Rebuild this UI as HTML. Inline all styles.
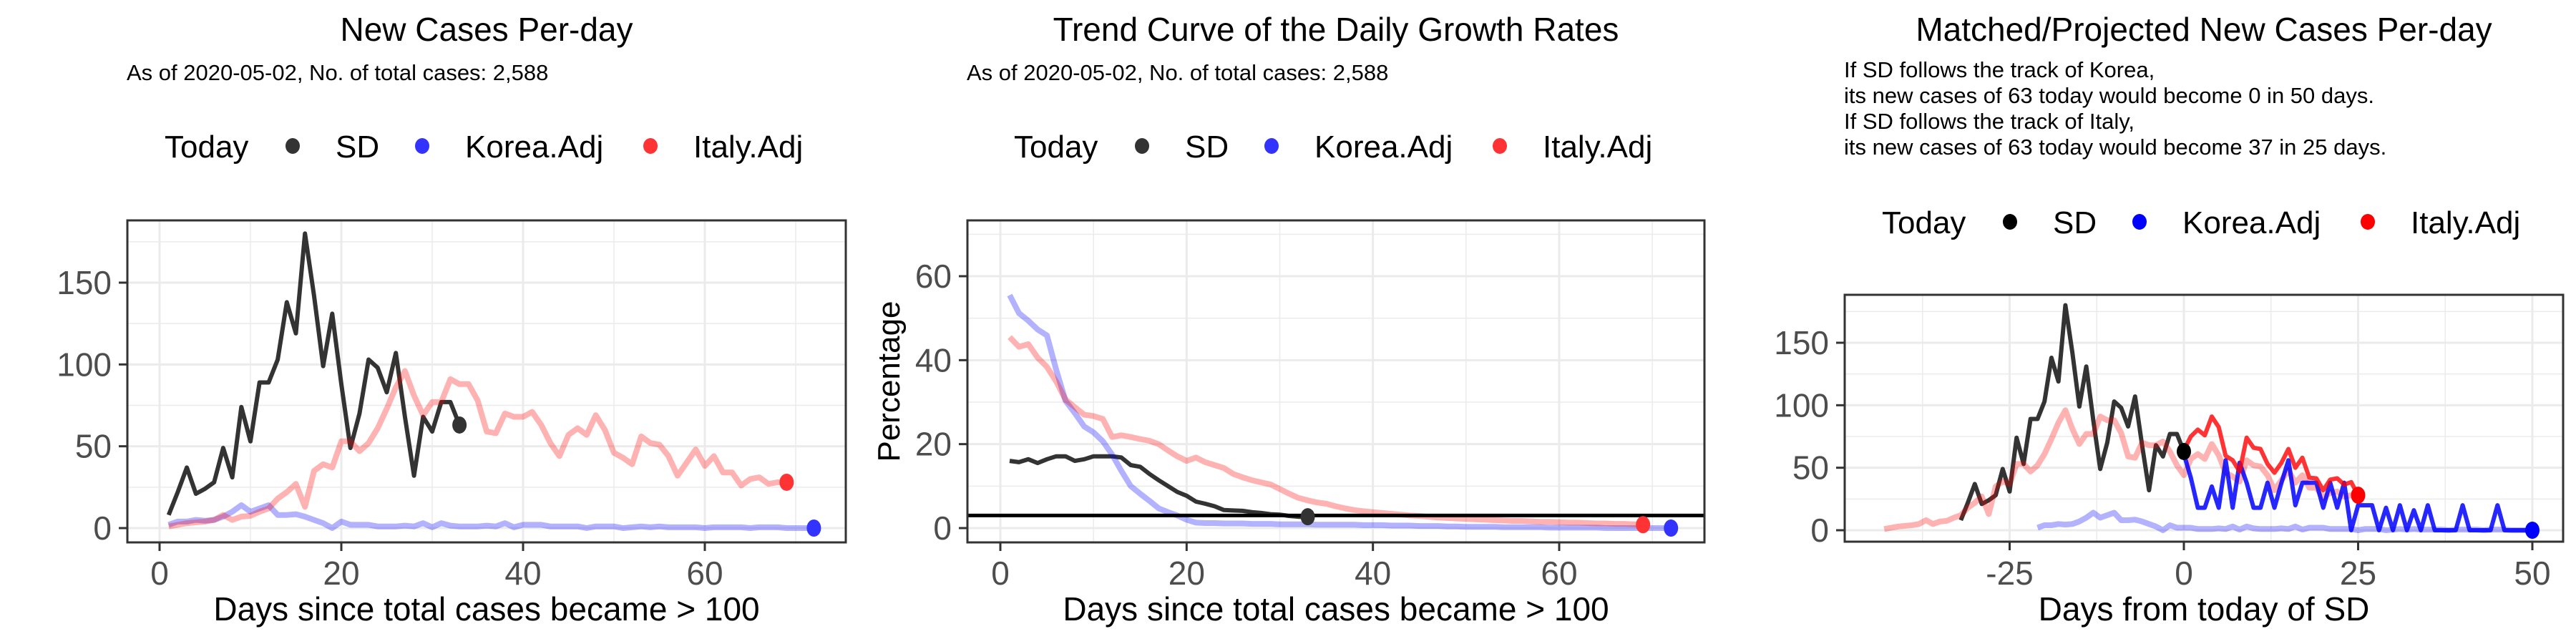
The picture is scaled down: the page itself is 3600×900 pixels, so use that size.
<!DOCTYPE html>
<html><head><meta charset="utf-8"><style>
html,body{margin:0;padding:0;background:#fff;}
svg{display:block;font-family:"Liberation Sans",Arial,sans-serif;}
</style></head><body>
<svg id="chart" width="3600" height="900" viewBox="0 0 3600 900" xmlns="http://www.w3.org/2000/svg">
<rect x="0" y="0" width="3600" height="900" fill="#fff"/>
<g id="p1"></g>
<g id="p2"></g>
<g id="p3"></g>
</svg>
<script>
// ---- data ----
const sdCases = [8,22,37,21,24,28,49,31,74,53,89,89,103,138,119,180,142,99,131,88,49,70,103,98,83,107,68,32,68,59,77,77,63];
const italyCases = [1,2,3,3.5,4,5,8,5,7,7.5,10,12,18,22,27,13,35,39,37,53,53,47,52,61,73,86,96,81,69,77,77,91,88,88,78,59,58,70,68,68,71,63,52,44,57,61,57,69,60,46,43,39,56,52,51,44,32,40,48,38,44,34,34,26,30,31,27,28,28];
const koreaCases = [2,4,4,5,4.5,5,7,10,14,10,12,14,8,8,8.5,7,5,3,0,4,2,2,2,1,1,1,1.5,1,3,0.5,3,1.5,1,1,1,1.5,1,3,0.5,2,2,2,1,1,1,1,0,1,1,1,0,0.5,1,0.5,1,0.5,0.5,0.5,0.5,0,0.5,0.5,0.5,0.5,0,0.5,0.5,0.5,0,0,0,0];
const sdRate = [16,15.7,16.4,15.5,16.4,17.1,17.1,16,16.4,17.1,17.1,17.1,16.8,15,14.6,12.9,11.4,10,8.6,7.7,6.3,5.8,5.2,4.3,4.2,4.1,3.8,3.6,3.3,3.2,2.9,2.7,2.7];
const koreaRate = [55.5,51.2,49.4,47.3,45.9,37.7,30.3,27.4,24.2,22.8,20.7,17.5,13.6,10,8.2,6.5,4.7,3.8,3,2,1.3,1.2,1.2,1.1,1.1,1.1,1,1,1,0.9,0.9,0.9,0.9,0.8,0.8,0.8,0.8,0.8,0.7,0.7,0.7,0.6,0.6,0.6,0.5,0.5,0.5,0.4,0.4,0.3,0.3,0.3,0.3,0.2,0.2,0.2,0.2,0.2,0.1,0.1,0.1,0.1,0.1,0.1,0,0,0,0,0,0,0,0];
const italyRate = [45.5,43.2,43.8,40.6,38.4,34.9,30.6,28.8,27,26.7,26,21.7,22.1,21.7,21.2,20.8,20,18.5,17.1,16,16.8,15.7,15,14.3,12.9,12.1,11.4,10.9,10.4,9.3,8.2,7.2,6.6,6.1,5.8,5.2,4.7,4.3,4,3.8,3.6,3.4,3.2,3,2.9,2.7,2.5,2.4,2.3,2.2,2.1,2,1.9,1.8,1.7,1.7,1.6,1.5,1.5,1.4,1.3,1.3,1.2,1.1,1.1,1,1,0.9,0.8];
const rateThreshold = 3;
const italyProj = [64,75,80.5,76,91,82.5,59.5,56,47,74,66,65,53,46,54,65,50,58,42,41.5,32,40.5,41.5,36.5,38.5,28];
const koreaProj = [61,42,18,18,35,18,56,18,54,38,18,18,38,18,38,56,20,38,38,38,18,38,18,38,0,20,20,20,0,18,0,20,0,16,0,20,0,0,0,0,20,0,0,0,0,20,0,0,0,0,0];
const sdShift = -33, italyShift = -44, koreaShift = -22;
const casesYTicks = [0,50,100,150];
const casesYMinor = [25,75,125,175];
const daysXTicks = [0,20,40,60];
const daysXMinor = [10,30,50,70];
const rateYTicks = [0,20,40,60];
const rateYMinor = [10,30,50,70];
const relXTicks = [-25,0,25,50];
const relXMinor = [-37.5,-12.5,12.5,37.5];

const NS = "http://www.w3.org/2000/svg";
function mk(parent, tag, attrs, text){
  const e = document.createElementNS(NS, tag);
  for (const k in attrs) e.setAttribute(k, attrs[k]);
  if (text !== undefined) e.textContent = text;
  parent.appendChild(e);
  return e;
}
function makeScale(d0, d1, r0, r1){ return v => r0 + (v - d0) / (d1 - d0) * (r1 - r0); }

function panel(g, cfg){
  const {L,R,T,B} = cfg;
  const x = makeScale(cfg.xd[0], cfg.xd[1], L, R);
  const y = makeScale(cfg.yd[0], cfg.yd[1], B, T);
  const bg = mk(g,'rect',{x:L,y:T,width:R-L,height:B-T,fill:'#fff'});
  
  
  cfg.yMinor.forEach(v=>{ const l=mk(g,'line',{x1:L,x2:R,y1:y(v),y2:y(v),stroke:'#ebebeb','stroke-width':1.5});
      });
  cfg.xMinor.forEach(v=>{ const l=mk(g,'line',{x1:x(v),x2:x(v),y1:T,y2:B,stroke:'#ebebeb','stroke-width':1.5});
      });
  cfg.yTicks.forEach(v=>{ const l=mk(g,'line',{x1:L,x2:R,y1:y(v),y2:y(v),stroke:'#ebebeb','stroke-width':3});
     
    const t=mk(g,'line',{x1:L-12,x2:L,y1:y(v),y2:y(v),stroke:'#333','stroke-width':3});
     
    const lb=mk(g,'text',{x:L-22,y:y(v)+16,'text-anchor':'end','font-size':46,fill:'#4d4d4d'},String(v));
      });
  cfg.xTicks.forEach(v=>{ const l=mk(g,'line',{x1:x(v),x2:x(v),y1:T,y2:B,stroke:'#ebebeb','stroke-width':3});
     
    const t=mk(g,'line',{x1:x(v),x2:x(v),y1:B,y2:B+12,stroke:'#333','stroke-width':3});
     
    const lb=mk(g,'text',{x:x(v),y:817,'text-anchor':'middle','font-size':46,fill:'#4d4d4d'},String(v));
      });
  const clip = 'clip'+g.id;
  const cp = mk(g,'clipPath',{id:clip}); mk(cp,'rect',{x:L,y:T,width:R-L,height:B-T});
  const plot = mk(g,'g',{'clip-path':'url(#'+clip+')'});
  
  
  cfg.series.forEach(s=>{
    const pts = s.data.map((v,i)=> x(i+1+s.shift).toFixed(1)+','+y(v).toFixed(1)).join(' ');
    const pl = mk(plot,'polyline',{points:pts,fill:'none',stroke:s.color,'stroke-width':s.w,'stroke-linejoin':'round','stroke-linecap':'butt'});
    
    
  });
  if (cfg.hline !== undefined){
    const h = mk(plot,'line',{x1:L,x2:R,y1:y(cfg.hline),y2:y(cfg.hline),stroke:'#000','stroke-width':5});
    
    
  }
  cfg.dots.forEach(d=>{
    const c = mk(plot,'ellipse',{cx:x(d.x),cy:y(d.y),rx:10,ry:12,fill:d.color});
    
    
  });
  const border = mk(g,'rect',{x:L,y:T,width:R-L,height:B-T,fill:'none',stroke:'#333','stroke-width':3});
  
  
  const cx=(L+R)/2;
  const xt = mk(g,'text',{x:cx,y:867,'text-anchor':'middle','font-size':46,fill:'#000'},cfg.xTitle);
  
  
  if (cfg.yTitle){
    const yt = mk(g,'text',{x:0,y:0,'text-anchor':'middle','font-size':44,fill:'#000',transform:'translate(1257,'+((T+B)/2)+') rotate(-90)'},cfg.yTitle);
    
    
  }
  const ti = mk(g,'text',{x:cx,y:57,'text-anchor':'middle','font-size':46,fill:'#000'},cfg.title);
  
  
  cfg.sub.forEach((s,i)=>{
    const st = mk(g,'text',{x:cfg.subX,y:cfg.subY+i*36,'font-size':31,fill:'#000'},s);
    
    
  });
  const lx = cx - 450, ly = cfg.legY;
  const lg = mk(g,'g',{});
  
  
  const lt = mk(lg,'text',{x:lx,y:ly,'font-size':44,fill:'#000'},'Today');
  
  
  const items=[['SD',179,239,cfg.legC[0],'legend-entry-sd'],['Korea.Adj',360,420,cfg.legC[1],'legend-entry-korea'],['Italy.Adj',679,739,cfg.legC[2],'legend-entry-italy']];
  items.forEach(it=>{
    const e = mk(lg,'g',{});
    
    
    mk(e,'ellipse',{cx:lx+it[1],cy:ly-16,rx:10,ry:11,fill:it[3]});
    mk(e,'text',{x:lx+it[2],y:ly,'font-size':44,fill:'#000'},it[0]);
  });
}

const subText = 'As of 2020-05-02, No. of total cases: 2,588';
const p1xd=[(178-223)/12.7,(1182-223)/12.7], p1yd=[(738-758)/2.2867,(738-308)/2.2867];
panel(document.getElementById('p1'),{
  L:178,R:1182,T:308,B:758,xd:p1xd,yd:p1yd,
  title:'New Cases Per-day',sub:[subText],subX:177,subY:112,legY:220,
  legC:['#333','#33f','#f33'],
  xTicks:daysXTicks,xMinor:daysXMinor,yTicks:casesYTicks,yMinor:casesYMinor,
  xTitle:'Days since total cases became > 100',
  series:[{data:sdCases,shift:0,color:'#333',w:6,name:'sd-line'},
          {data:koreaCases,shift:0,color:'rgba(0,0,255,0.3)',w:8,name:'korea-line'},
          {data:italyCases,shift:0,color:'rgba(255,0,0,0.3)',w:8,name:'italy-line'}],
  dots:[{x:sdCases.length,y:sdCases[sdCases.length-1],color:'#333',name:'sd-today-point'},
        {x:koreaCases.length,y:koreaCases[koreaCases.length-1],color:'#33f',name:'korea-today-point'},
        {x:italyCases.length,y:italyCases[italyCases.length-1],color:'#f33',name:'italy-today-point'}]
});
const p2xd=[(1352-1398)/13.0167,(2382-1398)/13.0167], p2yd=[(738-758)/5.8667,(738-308)/5.8667];
panel(document.getElementById('p2'),{
  L:1352,R:2382,T:308,B:758,xd:p2xd,yd:p2yd,
  title:'Trend Curve of the Daily Growth Rates',sub:[subText],subX:1351,subY:112,legY:220,
  legC:['#333','#33f','#f33'],
  xTicks:daysXTicks,xMinor:daysXMinor,yTicks:rateYTicks,yMinor:rateYMinor,
  xTitle:'Days since total cases became > 100',yTitle:'Percentage',hline:rateThreshold,
  series:[{data:sdRate,shift:0,color:'#333',w:6,name:'sd-rate-line'},
          {data:koreaRate,shift:0,color:'rgba(0,0,255,0.3)',w:8,name:'korea-rate-line'},
          {data:italyRate,shift:0,color:'rgba(255,0,0,0.3)',w:8,name:'italy-rate-line'}],
  dots:[{x:sdRate.length,y:sdRate[sdRate.length-1],color:'#333',name:'sd-today-point'},
        {x:koreaRate.length,y:koreaRate[koreaRate.length-1],color:'#33f',name:'korea-today-point'},
        {x:italyRate.length,y:italyRate[italyRate.length-1],color:'#f33',name:'italy-today-point'}]
});
const p3xd=[(2578-3052)/9.74,(3582-3052)/9.74], p3yd=[(741-757)/1.7467,(741-412)/1.7467];
panel(document.getElementById('p3'),{
  L:2578,R:3582,T:412,B:757,xd:p3xd,yd:p3yd,
  title:'Matched/Projected New Cases Per-day',
  sub:['If SD follows the track of Korea,','its new cases of 63 today would become 0 in 50 days.','If SD follows the track of Italy,','its new cases of 63 today would become 37 in 25 days.'],
  subX:2577,subY:108,legY:326,
  legC:['#000','#00f','#f00'],
  xTicks:relXTicks,xMinor:relXMinor,yTicks:casesYTicks,yMinor:casesYMinor,
  xTitle:'Days from today of SD',
  series:[{data:sdCases,shift:sdShift,color:'#333',w:6,name:'sd-line'},
          {data:koreaCases,shift:koreaShift,color:'rgba(0,0,255,0.3)',w:8,name:'korea-matched-line'},
          {data:italyCases,shift:italyShift,color:'rgba(255,0,0,0.3)',w:8,name:'italy-matched-line'},
          {data:koreaProj,shift:-1,color:'rgba(0,0,255,0.85)',w:6,name:'korea-projection-line'},
          {data:italyProj,shift:-1,color:'rgba(255,0,0,0.8)',w:6,name:'italy-projection-line'}],
  dots:[{x:0,y:sdCases[sdCases.length-1],color:'#000',name:'sd-today-point'},
        {x:koreaProj.length-1,y:koreaProj[koreaProj.length-1],color:'#00f',name:'korea-end-point'},
        {x:italyProj.length-1,y:italyProj[italyProj.length-1],color:'#f00',name:'italy-end-point'}]
});
</script>
</body></html>
